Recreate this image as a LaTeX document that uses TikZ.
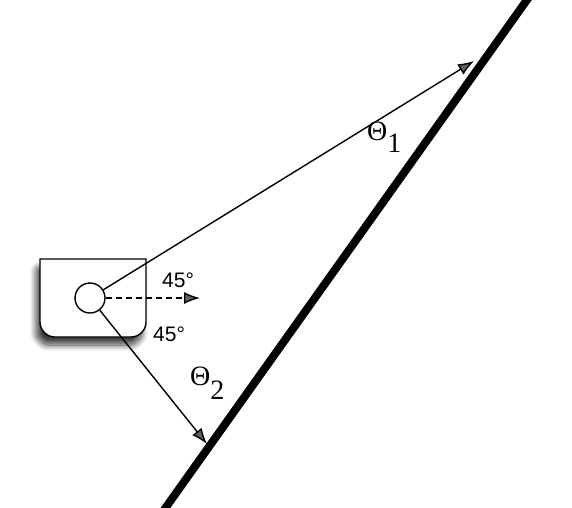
\documentclass[tikz,border=0pt]{standalone}
\usepackage{fontspec}
\setmainfont{Liberation Serif}
\setsansfont{Liberation Sans}
\usetikzlibrary{arrows.meta,shadows.blur}
\tikzset{
  ray/.style={line width=1.4pt,-{Latex[length=16pt,width=12pt]}},
  angl/.style={font=\sffamily\fontsize{21}{21}\selectfont,inner sep=0pt},
  theta/.style={font=\fontsize{28}{28}\selectfont,inner sep=0pt},
}
\begin{document}
\begin{tikzpicture}[x=1pt,y=-1pt]
\useasboundingbox (0,0) rectangle (572,507);
% wall
\coordinate (w1) at (159,517);
\coordinate (w2) at (534,-10);
\draw[line width=8pt] (w1) -- (w2);
% box with blurred shadow
\draw[line width=1.4pt,fill=white,blur shadow={shadow xshift=-4pt,shadow yshift=-8pt,shadow blur steps=10,shadow blur radius=6pt,shadow blur extra rounding=4pt,shadow opacity=75}]
  (40,259) -- (146,259) -- (146,322) arc[start angle=0,end angle=90,radius=15]
  -- (55,337) arc[start angle=90,end angle=180,radius=15] -- cycle;
\node[circle,draw,line width=1.4pt,minimum size=30pt,inner sep=0pt] (c) at (90,298) {};
\coordinate (t1) at (474,61);
\coordinate (t2) at (207,444);
\coordinate (t3) at (200,298);
\draw[ray] (c) -- (t1);
\draw[ray] (c) -- (t2);
\draw[ray,dashed,dash pattern=on 6pt off 4pt] (c) -- (t3);
\node[angl,anchor=south west] (a1) at (162,288) {45°};
\node[angl,anchor=south west] (a2) at (153,342) {45°};
\node[theta,anchor=south west] (th1) at (367,153) {Θ\raisebox{-12pt}{1}};
\node[theta,anchor=south west] (th2) at (190,400) {Θ\raisebox{-14pt}{2}};
\end{tikzpicture}
\end{document}
